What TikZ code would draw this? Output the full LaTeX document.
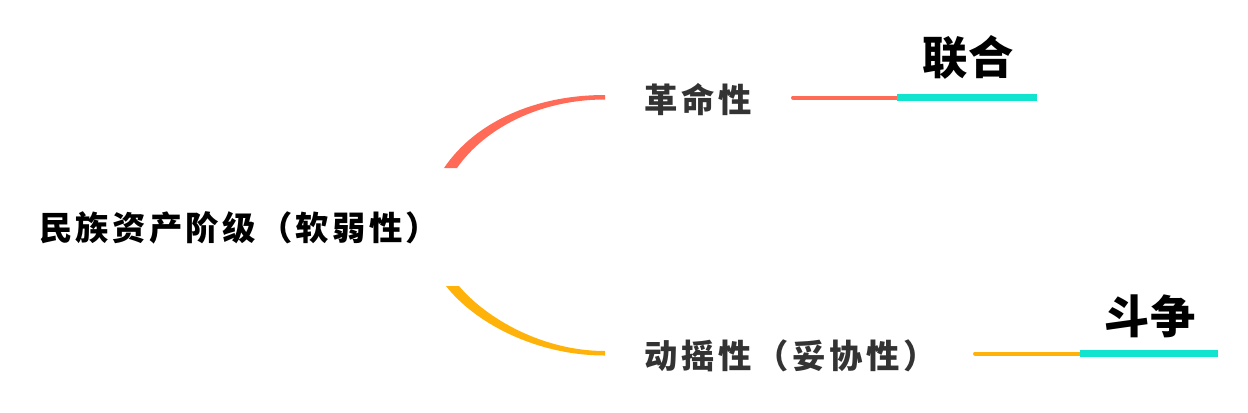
\documentclass[tikz,border=0pt]{standalone}
\usepackage{fontspec}
\newfontfamily\cjk{Noto Sans CJK SC}
\definecolor{salmon}{HTML}{FF6B57}
\definecolor{gold}{HTML}{FFB30A}
\definecolor{teal}{HTML}{10E4CF}
\definecolor{ink}{HTML}{333333}
\tikzset{
  root/.style={inner sep=0pt,font=\cjk\bfseries\fontsize{25pt}{25pt}\selectfont\addfontfeature{LetterSpace=10},text=black},
  branch/.style={inner sep=0pt,font=\cjk\bfseries\fontsize{25pt}{25pt}\selectfont\addfontfeature{LetterSpace=11},text=ink},
  tag/.style={inner sep=0pt,font=\cjk\bfseries\fontsize{34pt}{34pt}\selectfont,text=black},
  stem/.style={line width=3pt,line cap=round},
  bar/.style={line width=5.5pt,teal}
}

\begin{document}
\begin{tikzpicture}[x=0.75pt,y=-0.75pt,line join=round]
    \useasboundingbox (0,0) rectangle (1248,412);
    % labels
    \node[root] (mzzc) at (239,228) {民族资产阶级（软弱性）};
    \node[branch] (gmx) at (698,100) {革命性};
    \node[branch] (dyx) at (791,356) {动摇性（妥协性）};
    \node[tag] (lh) at (968,57) {联合};
    \node[tag] (dz) at (1150,316) {斗争};
    % ends of the curves and bars
    \path
    (444,168) coordinate (ua) (457,168) coordinate (ub)
    (605,95) coordinate (uc) (605,99.5) coordinate (ud)
    (446,286) coordinate (da) (459,286) coordinate (db)
    (605,351) coordinate (dc) (605,355.5) coordinate (dd)
    (793,97.5) coordinate (u0) (897,97.5) coordinate (u1) (1037,97.5) coordinate (u2)
    (975,353.5) coordinate (d0) (1080,353.5) coordinate (d1) (1218,353.5) coordinate (d2);
    % curves from the root
    \fill[salmon] (ua) .. controls (475,122) and (535,95) .. (uc)
      -- (ud) .. controls (540,99.5) and (485,128) .. (ub) -- cycle;
    \fill[gold] (da) .. controls (474,322) and (535,355.5) .. (dd)
      -- (dc) .. controls (542,351) and (486,318) .. (db) -- cycle;
    % bars under the tags
    \draw[stem,salmon] (u0) -- (u1);
    \draw[bar] (u1) -- (u2);
    \draw[stem,gold] (d0) -- (d1);
    \draw[bar] (d1) -- (d2);
\end{tikzpicture}
\end{document}
